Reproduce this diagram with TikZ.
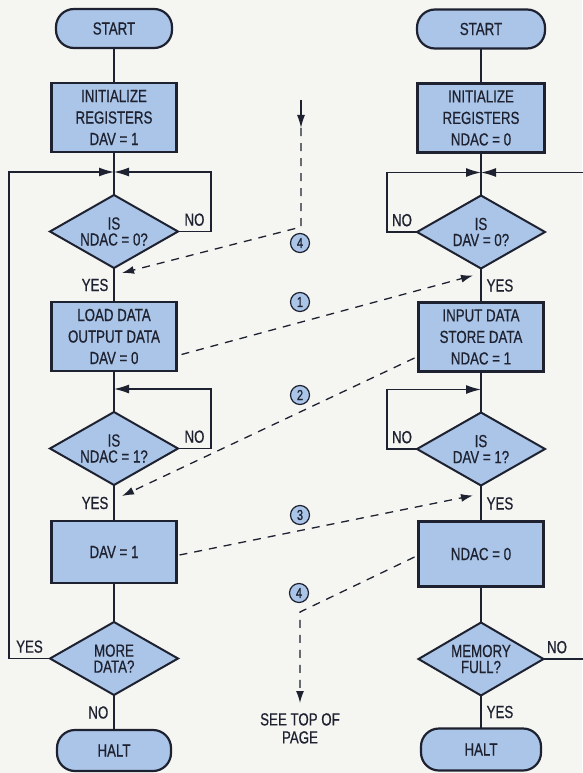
\documentclass[tikz,border=0pt]{standalone}
\usepackage{fontspec}
\setmainfont{Liberation Sans}[FakeStretch=0.76, FakeBold=0.6]
\usepackage{tikz}
\usetikzlibrary{arrows.meta, positioning, shapes.geometric, calc}
\definecolor{hsfill}{HTML}{ABC5E8}
\definecolor{hsink}{HTML}{1E2230}
\definecolor{hspaper}{HTML}{F5F5F2}
\newcommand{\hsfont}{\fontsize{17.5}{21.5}\selectfont}
\tikzset{
  hsbox/.style   = {rectangle, draw=hsink, line width=2.2pt, fill=hsfill,
                    text=hsink, align=center, font=\hsfont, outer sep=0pt,
                    minimum width=125pt, minimum height=69pt, inner sep=2pt},
  hsterm/.style  = {hsbox, rounded corners=18pt, minimum height=39pt},
  hsdec/.style   = {diamond, aspect=1.75, draw=hsink, line width=2pt,
                    fill=hsfill, text=hsink, align=center, outer sep=0pt,
                    font=\fontsize{17.5}{16}\selectfont, inner sep=0pt,
                    minimum width=128pt, minimum height=73pt},
  hsflow/.style  = {draw=hsink, line width=1.3pt},
  hsloop/.style  = {hsflow, -{Latex[length=15pt,width=9pt]}},
  hsdash/.style  = {draw=hsink, line width=1.3pt, dash pattern=on 8pt off 7pt,
                    -{Latex[length=12pt,width=8pt]}},
  hslab/.style   = {font=\hsfont, text=hsink, inner sep=2pt},
  hsnum/.style   = {circle, draw=hsink, line width=1.2pt, fill=hsfill,
                    text=hsink, font=\fontsize{14.5}{14.5}\selectfont,
                    inner sep=0pt, minimum size=19pt},
}

\begin{document}
\begin{tikzpicture}[x=1pt, y=-1pt]
  \fill[hspaper] (0,0) rectangle (582,773);
  \useasboundingbox (0,0) rectangle (582,773);

  % talker (left)
  \node[hsterm, minimum width=116pt] (lstart) at (114,28.5) {START};
  \node[hsbox, below=35pt of lstart] (linit) {INITIALIZE\\REGISTERS\\DAV = 1};
  \node[hsdec, below=43pt of linit] (ldec1) {IS\\NDAC = 0?};
  \node[hsbox, below=34pt of ldec1] (lload) {LOAD DATA\\OUTPUT DATA\\DAV = 0};
  \node[hsdec, below=41pt of lload] (ldec2) {IS\\NDAC = 1?};
  \node[hsbox, below=36pt of ldec2, minimum height=62pt] (ldav) {DAV = 1};
  \node[hsdec, below=39pt of ldav] (lmore) {MORE\\DATA?};
  \node[hsterm, below=35pt of lmore, minimum width=114pt, minimum height=41pt] (lhalt) {HALT};
  \coordinate[below=20pt of linit] (ljoin1);
  \coordinate[below=18pt of lload] (ljoin2);

  % listener (right)
  \node[hsterm, minimum width=128pt] (rstart) at (481,29) {START};
  \node[hsbox, below=35pt of rstart, minimum width=127pt] (rinit) {INITIALIZE\\REGISTERS\\NDAC = 0};
  \node[hsdec, below=43pt of rinit] (rdec1) {IS\\DAV = 0?};
  \node[hsbox, below=34pt of rdec1] (rinput) {INPUT DATA\\STORE DATA\\NDAC = 1};
  \node[hsdec, below=41pt of rinput] (rdec2) {IS\\DAV = 1?};
  \node[hsbox, below=36pt of rdec2, minimum height=65pt] (rndac) {NDAC = 0};
  \node[hsdec, below=36pt of rndac, minimum width=125pt] (rmem) {MEMORY\\FULL?};
  \node[hsterm, below=33pt of rmem, minimum width=120pt, minimum height=42pt] (rhalt) {HALT};
  \coordinate[below=20pt of rinit] (rjoin1);
  \coordinate[below=18pt of rinput] (rjoin2);

  % left flow
  \draw[hsflow] (lstart) -- (linit);
  \draw[hsflow] (linit) -- (ldec1);
  \draw[hsflow] (ldec1) -- node[hslab, left=3pt] (lyes1) {YES} (lload);
  \draw[hsflow] (lload) -- (ldec2);
  \draw[hsflow] (ldec2) -- node[hslab, left=3pt] (lyes2) {YES} (ldav);
  \draw[hsflow] (ldav) -- (lmore);
  \draw[hsflow] (lmore) -- node[hslab, left=3pt] (lno3) {NO} (lhalt);
  \draw[hsloop] (ldec1.east) -- ++(33,0) node[hslab, midway, above=3pt] (lno1) {NO} |- (ljoin1);
  \draw[hsloop] (ldec2.east) -- ++(33,0) node[hslab, midway, above=3pt] (lno2) {NO} |- (ljoin2);
  \draw[hsloop] (lmore.west) -- ++(-41,0) node[hslab, midway, above=3pt] (lyes3) {YES} |- (ljoin1);

  % right flow
  \draw[hsflow] (rstart) -- (rinit);
  \draw[hsflow] (rinit) -- (rdec1);
  \draw[hsflow] (rdec1) -- node[hslab, right=3pt] (ryes1) {YES} (rinput);
  \draw[hsflow] (rinput) -- (rdec2);
  \draw[hsflow] (rdec2) -- node[hslab, right=3pt] (ryes2) {YES} (rndac);
  \draw[hsflow] (rndac) -- (rmem);
  \draw[hsflow] (rmem) -- node[hslab, right=3pt] (ryes3) {YES} (rhalt);
  \draw[hsloop] (rdec1.west) -- ++(-30,0) node[hslab, midway, above=3pt] (rno1) {NO} |- (rjoin1);
  \draw[hsloop] (rdec2.west) -- ++(-30,0) node[hslab, midway, above=3pt] (rno2) {NO} |- (rjoin2);
  \draw[hsloop] (rmem.east) -- ++(45,0) node[hslab, pos=.3, above=3pt] (rno3) {NO} |- (rjoin1);

  % handshake
  \node[hsnum] (num1) at (300,302) {1};
  \node[hsnum] (num2) at (300,395) {2};
  \node[hsnum] (num3) at (300,515) {3};
  \node[hsnum] (num4a) at (300,243) {4};
  \node[hsnum] (num4b) at (299,593) {4};
  \coordinate (ctop) at (301,100);
  \coordinate (cbend) at (301,227);
  \coordinate (cturn) at (300,612);
  \coordinate (cend) at (300,703);
  \node[hslab, below=8pt of cend, align=center, font=\fontsize{17.5}{18}\selectfont] (seetop) {SEE TOP OF\\PAGE};
  \draw[hsdash] ([shift={(5,18)}]lload.east) -- ([shift={(-8,7)}]rdec1.south);
  \draw[hsdash] ([shift={(-4,21)}]rinput.west) -- ([shift={(8,11)}]ldec2.south);
  \draw[hsdash] ([shift={(3,3)}]ldav.east) -- ([shift={(-8,10)}]rdec2.south);
  \draw[hsdash] ([shift={(-4,3)}]rndac.west) -- (cturn) -- (cend);
  \draw[hsflow, -{Latex[length=13pt,width=8pt]}] (ctop) -- ++(0,28);
  \draw[hsdash] ([yshift=-28pt]ctop) -- (cbend) -- ([shift={(8,5)}]ldec1.south);
\end{tikzpicture}
\end{document}
